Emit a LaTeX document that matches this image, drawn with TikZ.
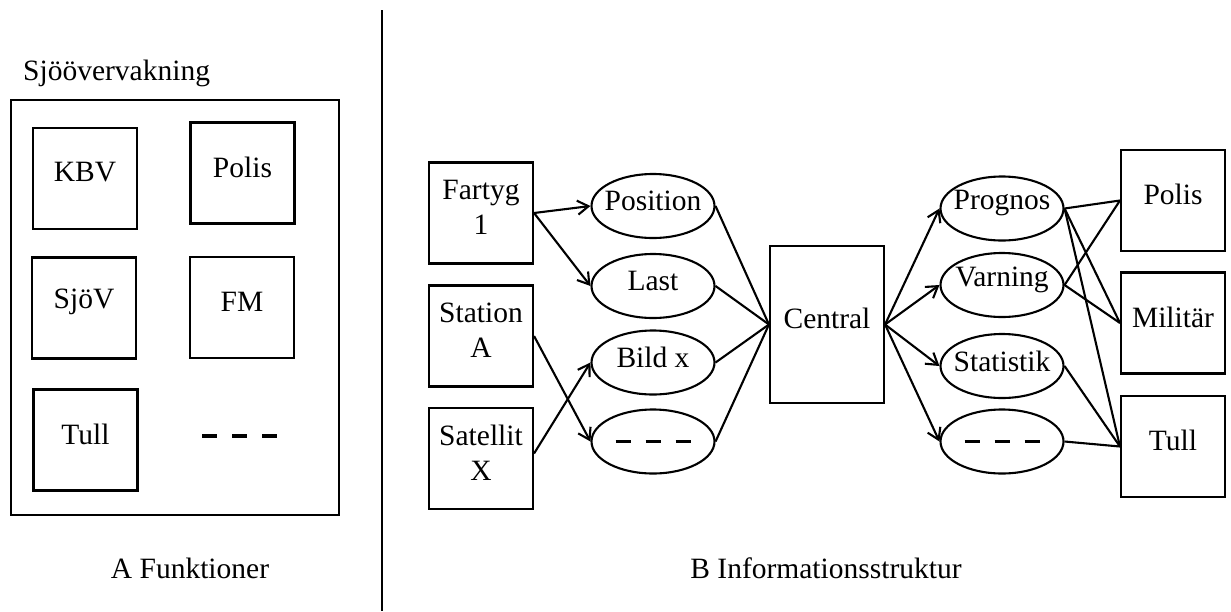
\documentclass[tikz,border=0pt]{standalone}
\usepackage{fontspec}
\setmainfont{Liberation Serif}
\usetikzlibrary{arrows.meta,shapes.geometric}

\begin{document}
\begin{tikzpicture}[x=1pt,y=-1pt,
  font=\fontsize{29.5}{35}\selectfont,
  ln/.style={line width=2.1pt},
  arr/.style={ln, -{Straight Barb[length=11pt,width=14pt]}},
  frame/.style={draw, line width=2.1pt, inner sep=0pt},
  box/.style={frame, minimum width=104pt, minimum height=101pt,
    label={[align=center,yshift=6pt]center:#1}},
  oval/.style={frame, ellipse, minimum width=123pt, minimum height=64pt,
    label={[yshift=5pt]center:#1}},
  dashbar/.style={line width=3.8pt, dash pattern=on 15pt off 15pt},
  caption/.style={inner sep=0pt, anchor=base}
]
\useasboundingbox (0,0) rectangle (1231,611);

% ---------- A: functions ----------
\node[caption, anchor=base west] (title) at (23,80) {Sjöövervakning};
\node[frame, minimum width=328pt, minimum height=415pt] (panel) at (175,307.5) {};
\node[box=KBV]   (kbv)   at (85,178.5) {};
\node[box=Polis] (polisA) at (242.5,173) {};
\node[box=SjöV]  (sjov)  at (84,308) {};
\node[box=FM]    (fm)    at (242,307.5) {};
\node[box=Tull]  (tullA) at (85.5,440) {};
\draw[dashbar] (202,436) -- (277,436);
\node[caption] (capA) at (190,578) {A Funktioner};

% divider
\coordinate (divtop) at (382,10);
\coordinate (divbot) at (382,611);
\draw[ln] (divtop) -- (divbot);

% ---------- B: information structure ----------
\node[box={Fartyg\\1}]    (fartyg)   at (481,213) {};
\node[box={Station\\A}]   (station)  at (481,336) {};
\node[box={Satellit\\X}]  (satellit) at (481,458.5) {};

\node[oval=Position] (pos)  at (653,206) {};
\node[oval=Last]     (last) at (653,286) {};
\node[oval={Bild x}] (bild) at (653,362.5) {};
\node[oval={}]       (dotL) at (653,441.5) {};
\draw[dashbar] ([xshift=-37.5pt]dotL.center) -- ([xshift=37.5pt]dotL.center);

\node[frame, minimum width=114pt, minimum height=157pt,
  label={[yshift=6.5pt]center:Central}] (central) at (827,324.5) {};

\node[oval=Prognos]   (prog)  at (1002,208.5) {};
\node[oval=Varning]   (varn)  at (1002,285) {};
\node[oval=Statistik] (stat)  at (1002,366) {};
\node[oval={}]        (dotR)  at (1002,441.5) {};
\draw[dashbar] ([xshift=-37.5pt]dotR.center) -- ([xshift=37.5pt]dotR.center);

\node[box=Polis]   (polis)   at (1173,200.5) {};
\node[box=Militär] (militar) at (1173,323) {};
\node[box=Tull]    (tull)    at (1173,446.5) {};

\node[caption] (capB) at (826,578) {B Informationsstruktur};

% sources to data items
\draw[arr] (fartyg.east) -- (pos.west);
\draw[arr] (fartyg.east) -- (last.west);
\draw[arr] (station.east) -- (dotL.west);
\draw[arr] ([yshift=5pt]satellit.east) -- (bild.west);

% data items into the central
\foreach \n in {pos,last,bild,dotL}
  \draw[ln] (\n.east) -- (central.west);

% central to products
\foreach \n in {prog,varn,stat,dotR}
  \draw[arr] (central.east) -- (\n.west);

% products to users
\draw[ln] (prog.east) -- (polis.west);
\draw[ln] (prog.east) -- (militar.west);
\draw[ln] (prog.east) -- (tull.west);
\draw[ln] (varn.east) -- (polis.west);
\draw[ln] (varn.east) -- (militar.west);
\draw[ln] (stat.east) -- (tull.west);
\draw[ln] (dotR.east) -- (tull.west);
\end{tikzpicture}
\end{document}
